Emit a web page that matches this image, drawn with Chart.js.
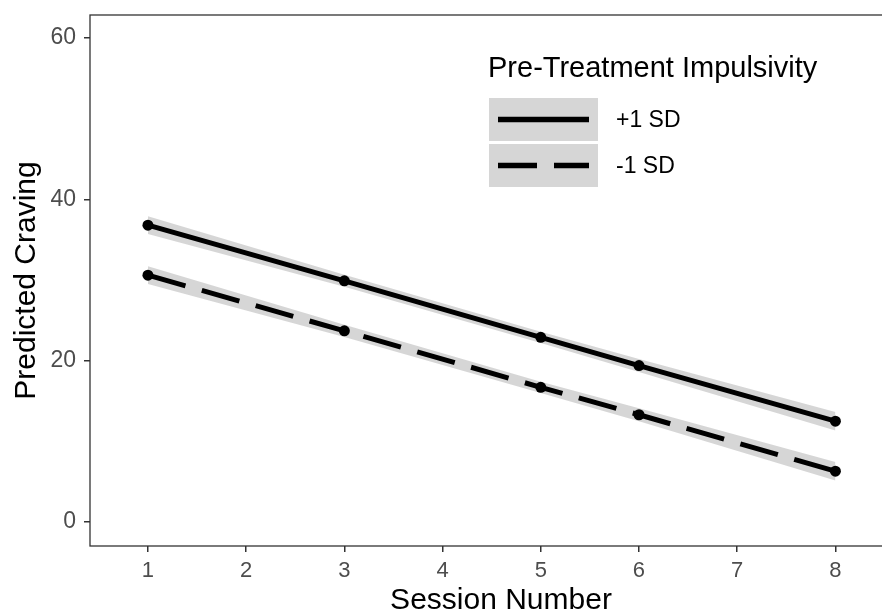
<!DOCTYPE html>
<html>
<head>
<meta charset="utf-8">
<script src="https://cdn.jsdelivr.net/npm/chart.js@4"></script>
<style>
  html, body { margin: 0; padding: 0; background: #fff; overflow: hidden; }
  #wrap { width: 882px; height: 614px; overflow: hidden; }
</style>
</head>
<body>
<!-- the panel runs a little past the right edge of the picture, so the canvas is wider than the window -->
<div id="wrap"><canvas id="chart" width="912" height="614"></canvas></div>
<script>
// values
const sessions = [1, 3, 5, 6, 8];
const highImp = [36.8, 29.9, 22.9, 19.4, 12.5];   // +1 SD
const lowImp = [30.6, 23.7, 16.7, 13.3, 6.3];     // -1 SD
const ciHalf = [1.1, 0.75, 0.7, 0.8, 1.15];       // ribbon half width
const seriesNames = ["+1 SD", "-1 SD"];
const legendTitle = "Pre-Treatment Impulsivity";
const xTicks = [1, 2, 3, 4, 5, 6, 7, 8];
const yTicks = [0, 20, 40, 60];

const FONT = "'Liberation Sans', Arial, sans-serif";
const ribbonFill = "rgba(153,153,153,0.4)";
const dashPat = [39, 17];

const pts = (ys, off) => sessions.map((x, i) => ({ x, y: ys[i] + off * ciHalf[i] }));

const ribbon = (ys, off, fill) => ({
    data: pts(ys, off),
    borderWidth: 0,
    pointRadius: 0,
    backgroundColor: ribbonFill,
    fill: fill,
    order: 10,
});

// panel border and the legend
const frameAndLegend = {
    id: "frameAndLegend",
    afterDraw(chart) {
        const ctx = chart.ctx;
        const a = chart.chartArea;
        ctx.save();
        ctx.strokeStyle = "#333333";
        ctx.lineWidth = 1.3;
        ctx.strokeRect(a.left, a.top, a.right - a.left, a.bottom - a.top);

        ctx.fillStyle = "#000";
        ctx.font = "29px " + FONT;
        ctx.textBaseline = "alphabetic";
        ctx.fillText(legendTitle, 488, 77);

        const rows = [119.5, 165.5];
        rows.forEach((cy, i) => {
            ctx.fillStyle = ribbonFill;
            ctx.fillRect(489, cy - 21.5, 109, 43);
            ctx.strokeStyle = "#000";
            ctx.lineWidth = 5.5;
            ctx.lineCap = "butt";
            ctx.setLineDash(i === 0 ? [] : dashPat);
            ctx.beginPath();
            ctx.moveTo(498, cy);
            ctx.lineTo(589, cy);
            ctx.stroke();
            ctx.setLineDash([]);
            ctx.fillStyle = "#000";
            ctx.font = "23px " + FONT;
            ctx.textBaseline = "middle";
            ctx.fillText(seriesNames[i], 616, cy + 1);
        });
        ctx.restore();
    },
};

new Chart(document.getElementById("chart"), {
    type: "line",
    data: {
        datasets: [
            ribbon(highImp, 1, false),
            ribbon(highImp, -1, "-1"),
            ribbon(lowImp, 1, false),
            ribbon(lowImp, -1, "-1"),
            {
                label: seriesNames[0],
                data: pts(highImp, 0),
                borderColor: "#000",
                borderWidth: 5,
                pointRadius: 5.5,
                pointBackgroundColor: "#000",
                pointBorderWidth: 0,
                fill: false,
                order: 1,
            },
            {
                label: seriesNames[1],
                data: pts(lowImp, 0),
                borderColor: "#000",
                borderWidth: 5,
                borderDash: dashPat,
                borderCapStyle: "butt",
                pointRadius: 5.5,
                pointBackgroundColor: "#000",
                pointBorderWidth: 0,
                fill: false,
                order: 1,
            },
        ],
    },
    options: {
        responsive: false,
        animation: false,
        devicePixelRatio: 1,
        layout: { autoPadding: false, padding: { top: 15, right: 0, left: 0, bottom: 0 } },
        elements: { line: { tension: 0 } },
        plugins: { legend: { display: false }, tooltip: { enabled: false } },
        scales: {
            x: {
                type: "linear",
                min: 0.41,
                max: 8.78,
                afterBuildTicks: (s) => { s.ticks = xTicks.map((v) => ({ value: v })); },
                afterFit: (s) => { s.height = 68; s.paddingLeft = 0; s.paddingRight = 0; },
                border: { display: false },
                grid: { drawOnChartArea: false, drawTicks: true, tickLength: 6, color: "#333333", lineWidth: 1.5 },
                ticks: { font: { family: FONT, size: 22 }, color: "#4d4d4d", padding: 6, maxRotation: 0 },
                title: { display: true, text: "Session Number", color: "#000", font: { family: FONT, size: 30, lineHeight: 1 }, padding: { top: 0, bottom: -2 } },
            },
            y: {
                min: -2.97,
                max: 62.85,
                afterBuildTicks: (s) => { s.ticks = yTicks.map((v) => ({ value: v })); },
                afterFit: (s) => { s.width = 90; s.paddingTop = 0; s.paddingBottom = 0; },
                border: { display: false },
                grid: { drawOnChartArea: false, drawTicks: true, tickLength: 6, color: "#333333", lineWidth: 1.5 },
                ticks: { font: { family: FONT, size: 23 }, color: "#4d4d4d", padding: 8 },
                title: { display: true, text: "Predicted Craving", color: "#000", font: { family: FONT, size: 30, lineHeight: 1 }, padding: { top: 12, bottom: 0 } },
            },
        },
    },
    plugins: [frameAndLegend],
});
</script>
</body>
</html>
